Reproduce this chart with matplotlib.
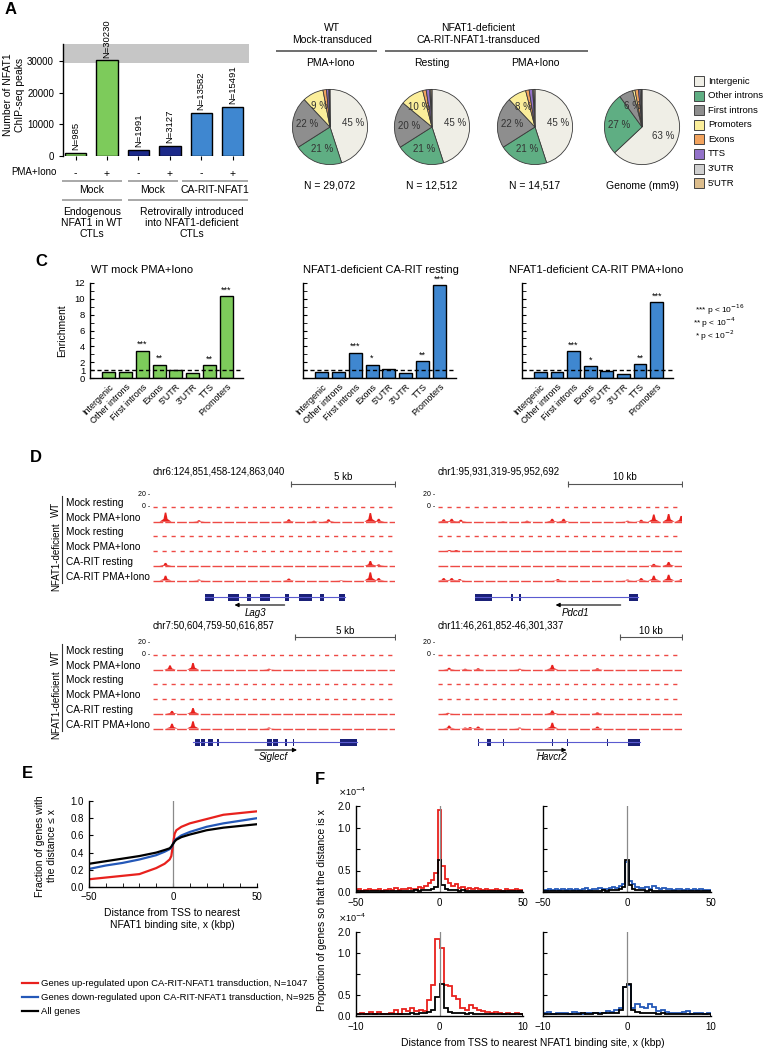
"""
plot.py - NFAT1 ChIP-seq summary figure (panels A, C, D, E, F).
"""

import matplotlib.pyplot as plt
from matplotlib.patches import Rectangle

plt.rcParams["font.family"] = ["Liberation Sans", "DejaVu Sans"]
plt.rcParams["font.size"] = 7
plt.rcParams["axes.linewidth"] = 1.0

W, H = 765, 1050

# ---------------------------------------------------------------------------
# Data
# ---------------------------------------------------------------------------

# A: number of peaks
a_counts = [985, 30230, 1991, 3127, 13582, 15491]
a_stim = ["-", "+", "-", "+", "-", "+"]
a_groups = ["Mock", "Mock", "CA-RIT-NFAT1"]

# A: genomic distribution pies
pie_categories = ["Intergenic", "Other introns", "First introns", "Promoters",
                  "Exons", "TTS", "3'UTR", "5'UTR"]
pie_wt_pma = [45, 21, 22, 9, 1.5, 1.0, 0.3, 0.2]
pie_carit_rest = [45, 21, 20, 10, 1.5, 1.5, 0.5, 0.5]
pie_carit_pma = [45, 21, 22, 8, 1.5, 1.5, 0.5, 0.5]
pie_genome = [63, 27, 6, 1.0, 1.5, 0.7, 0.5, 0.3]
pie_titles = ["PMA+Iono", "Resting", "PMA+Iono", ""]
pie_footers = ["N = 29,072", "N = 12,512", "N = 14,517", "Genome (mm9)"]

# C: enrichment
c_categories = ["Intergenic", "Other introns", "First introns", "Exons",
                "5'UTR", "3'UTR", "TTS", "Promoters"]
c_wt_pma = [0.72, 0.76, 3.45, 1.7, 0.97, 0.6, 1.65, 10.3]
c_carit_rest = [0.7, 0.75, 3.2, 1.7, 1.2, 0.6, 2.1, 11.7]
c_carit_pma = [0.7, 0.75, 3.4, 1.5, 0.9, 0.55, 1.77, 9.6]
c_stars_wt = ["", "", "***", "**", "", "", "**", "***"]
c_stars_rest = ["", "", "***", "*", "", "", "**", "***"]
c_stars_pma = ["", "", "***", "*", "", "", "**", "***"]
c_titles = ["WT mock PMA+Iono", "NFAT1-deficient CA-RIT resting",
            "NFAT1-deficient CA-RIT PMA+Iono"]

# D: browser tracks (positions in kb from locus start, signal height)
d_loci = ["chr6:124,851,458-124,863,040", "chr1:95,931,319-95,952,692",
          "chr7:50,604,759-50,616,857", "chr11:46,261,852-46,301,337"]
d_len_kb = [11.58, 21.37, 12.10, 39.49]
d_scale_kb = [5, 10, 5, 10]
d_tracks = ["Mock resting", "Mock PMA+Iono", "Mock resting", "Mock PMA+Iono",
            "CA-RIT resting", "CA-RIT PMA+Iono"]

lag3_peaks = [
    [],
    [(0.6, 19), (2.2, 3), (6.5, 5), (7.7, 2), (8.4, 5), (10.4, 18), (10.8, 6)],
    [],
    [],
    [(0.6, 6), (10.4, 10), (10.8, 3)],
    [(0.6, 10), (2.2, 2), (6.5, 4), (9.0, 1), (10.4, 17), (10.8, 5)],
]
pdcd1_peaks = [
    [],
    [(0.5, 5), (1.2, 6), (2.0, 4), (5.7, 1), (7.8, 2), (10.0, 6), (11.0, 6),
     (16.6, 2), (17.8, 4), (18.9, 15), (20.2, 16), (21.3, 12)],
    [],
    [(1.0, 2), (1.6, 2)],
    [(18.9, 4), (20.2, 8)],
    [(0.5, 5), (1.2, 5), (1.9, 3), (10.5, 3), (16.6, 2), (17.8, 5),
     (18.9, 10), (20.2, 12), (21.3, 3)],
]
siglecf_peaks = [
    [],
    [(0.85, 9), (2.0, 14), (5.8, 2)],
    [],
    [],
    [(0.95, 6), (2.0, 12)],
    [(0.95, 10), (2.0, 15), (5.8, 2)],
]
havcr2_peaks = [
    [],
    [(1.8, 4), (4.4, 2), (6.5, 3), (13.2, 2), (18.5, 10), (25.8, 3)],
    [],
    [],
    [(1.6, 2), (18.5, 7), (25.8, 3)],
    [(1.8, 6), (4.4, 2), (5.2, 3), (6.5, 4), (13.2, 2), (18.5, 12), (25.8, 4)],
]
d_peaks = [lag3_peaks, pdcd1_peaks, siglecf_peaks, havcr2_peaks]

d_genes = ["Lag3", "Pdcd1", "Siglecf", "Havcr2"]
d_gene_span = [(2.5, 9.2), (3.2, 17.5), (2.0, 10.2), (6.4, 32.7)]
d_gene_exons = [
    [(2.5, 2.9), (3.6, 4.1), (4.5, 4.7), (5.1, 5.6), (6.3, 6.5), (7.0, 7.6),
     (8.0, 8.2), (8.9, 9.2)],
    [(3.2, 4.7), (6.4, 6.6), (7.1, 7.3), (16.7, 17.5)],
    [(2.1, 2.35), (2.4, 2.6), (2.75, 3.0), (3.2, 3.3), (5.7, 5.95),
     (6.0, 6.25), (6.6, 6.7), (7.0, 7.05), (9.35, 10.2)],
    [(6.4, 6.6), (8.0, 8.5), (10.5, 10.65), (18.4, 18.55), (20.9, 21.05),
     (27.3, 27.45), (30.8, 32.7)],
]
d_gene_arrow = [(6.3, 3.9), (16.0, 10.3), (5.1, 7.2), (16.0, 20.8)]
d_gene_label_x = [4.9, 12.0, 6.0, 18.4]

# E: cumulative distributions
e_x = [-50, -40, -30, -20, -10, -5, -2, -1, 0, 1, 2, 5, 10, 20, 30, 40, 50]
e_up = [0.09, 0.11, 0.13, 0.15, 0.22, 0.27, 0.32, 0.36, 0.50, 0.62, 0.66,
        0.70, 0.74, 0.79, 0.84, 0.86, 0.88]
e_down = [0.21, 0.25, 0.28, 0.32, 0.37, 0.41, 0.44, 0.46, 0.50, 0.54, 0.56,
          0.60, 0.64, 0.70, 0.74, 0.77, 0.80]
e_all = [0.27, 0.30, 0.33, 0.36, 0.40, 0.43, 0.45, 0.47, 0.50, 0.53, 0.55,
         0.58, 0.61, 0.66, 0.69, 0.71, 0.73]
e_legend = ["Genes up-regulated upon CA-RIT-NFAT1 transduction, N=1047",
            "Genes down-regulated upon CA-RIT-NFAT1 transduction, N=925",
            "All genes"]

# F: histograms (x10^-4), top: 2 kbp bins over -51..51, bottom: 0.5 kbp bins
f_top_edges = [-51 + 2 * i for i in range(52)]
f_top_up = [0.04, 0.06, 0.03, 0.05, 0.08, 0.04, 0.05, 0.07, 0.03, 0.05,
            0.06, 0.04, 0.09, 0.05, 0.07, 0.06, 0.10, 0.06, 0.08, 0.12,
            0.09, 0.15, 0.20, 0.27, 0.45, 1.90, 0.60, 0.30, 0.22, 0.15,
            0.18, 0.10, 0.12, 0.08, 0.10, 0.07, 0.09, 0.06, 0.05, 0.08,
            0.05, 0.04, 0.06, 0.05, 0.03, 0.06, 0.04, 0.05, 0.08, 0.04, 0.05]
f_top_all = [0.02, 0.03, 0.02, 0.02, 0.03, 0.02, 0.03, 0.02, 0.02, 0.03,
             0.03, 0.02, 0.03, 0.03, 0.02, 0.03, 0.03, 0.03, 0.04, 0.03,
             0.04, 0.04, 0.05, 0.06, 0.12, 0.75, 0.16, 0.07, 0.05, 0.04,
             0.04, 0.03, 0.04, 0.03, 0.03, 0.03, 0.02, 0.03, 0.03, 0.02,
             0.03, 0.02, 0.03, 0.02, 0.02, 0.03, 0.02, 0.02, 0.03, 0.02, 0.02]
f_top_down = [0.05, 0.04, 0.07, 0.05, 0.06, 0.04, 0.08, 0.05, 0.06, 0.04,
              0.07, 0.05, 0.06, 0.09, 0.05, 0.07, 0.06, 0.10, 0.08, 0.07,
              0.09, 0.12, 0.10, 0.14, 0.18, 0.70, 0.25, 0.18, 0.12, 0.10,
              0.09, 0.12, 0.08, 0.13, 0.10, 0.07, 0.09, 0.06, 0.08, 0.05,
              0.07, 0.06, 0.05, 0.08, 0.05, 0.06, 0.04, 0.06, 0.05, 0.04, 0.05]
f_bot_edges = [-10 + 0.5 * i for i in range(41)]
f_bot_up = [0.05, 0.06, 0.05, 0.10, 0.05, 0.10, 0.05, 0.05, 0.08, 0.15,
            0.05, 0.17, 0.12, 0.20, 0.12, 0.15, 0.12, 0.37, 0.75, 1.84,
            1.62, 0.73, 0.72, 0.47, 0.40, 0.18, 0.15, 0.27, 0.20, 0.15,
            0.12, 0.10, 0.08, 0.10, 0.07, 0.05, 0.08, 0.05, 0.07, 0.05]
f_bot_all_up = [0.04, 0.05, 0.04, 0.04, 0.05, 0.04, 0.05, 0.04, 0.05, 0.05,
                0.04, 0.05, 0.05, 0.06, 0.05, 0.06, 0.06, 0.10, 0.15, 0.45,
                0.77, 0.20, 0.10, 0.08, 0.06, 0.06, 0.05, 0.06, 0.05, 0.05,
                0.04, 0.05, 0.04, 0.05, 0.04, 0.04, 0.05, 0.04, 0.04, 0.04]
f_bot_down = [0.06, 0.10, 0.05, 0.06, 0.08, 0.06, 0.05, 0.10, 0.06, 0.05,
              0.08, 0.06, 0.06, 0.08, 0.06, 0.12, 0.10, 0.15, 0.20, 0.70,
              0.75, 0.20, 0.28, 0.22, 0.18, 0.28, 0.22, 0.12, 0.15, 0.10,
              0.06, 0.06, 0.08, 0.10, 0.12, 0.05, 0.06, 0.06, 0.05, 0.06]
f_bot_all_down = [0.05, 0.05, 0.04, 0.05, 0.05, 0.04, 0.05, 0.05, 0.05, 0.06,
                  0.05, 0.05, 0.06, 0.05, 0.06, 0.06, 0.07, 0.08, 0.15, 0.70,
                  0.77, 0.15, 0.10, 0.08, 0.07, 0.06, 0.06, 0.05, 0.06, 0.05,
                  0.05, 0.05, 0.05, 0.04, 0.05, 0.05, 0.04, 0.05, 0.04, 0.04]

# ---------------------------------------------------------------------------
# Styles
# ---------------------------------------------------------------------------
GREEN = "#7dcb5b"
NAVY = "#1c2a8a"
BLUE = "#3f87d0"
RED = "#e8211d"
DBLUE = "#2458b8"
GRAY_LINE = "#9a9a9a"
GENE = "#1a2078"
a_colors = [GREEN, GREEN, NAVY, NAVY, BLUE, BLUE]
pie_colors = ["#efeee6", "#5fae83", "#8e8e8e", "#fbee9a", "#f2a35e",
              "#9372c9", "#cfcfcf", "#dcbd8c"]

fig = plt.figure(figsize=(W / 100, H / 100), dpi=100)


def px_axes(x0, y0, x1, y1):
    """Axes placed by pixel box (top-left origin)."""
    return fig.add_axes([x0 / W, 1 - y1 / H, (x1 - x0) / W, (y1 - y0) / H])


ov = fig.add_axes([0, 0, 1, 1])
ov.set_xlim(0, W)
ov.set_ylim(H, 0)
ov.axis("off")


def txt(x, y, s, **kw):
    kw.setdefault("ha", "center")
    kw.setdefault("va", "center")
    ov.text(x, y, s, **kw)


def hline(x0, x1, y, color=GRAY_LINE, lw=1.2):
    ov.plot([x0, x1], [y, y], color=color, lw=lw, solid_capstyle="butt")


# ---------------------------------------------------------------------------
# A: bar chart
# ---------------------------------------------------------------------------
ax = px_axes(63, 44, 249, 156)
xpos = list(range(len(a_counts)))
ax.axhspan(29400, 35400, color="#c6c6c6", zorder=0, lw=0)
ax.bar(xpos, a_counts, width=0.68, color=a_colors, edgecolor="black", lw=1, zorder=2)
for i, n in enumerate(a_counts):
    ax.text(i, n + 900, f"N={n}", rotation=90, ha="center", va="bottom",
            fontsize=6.8, clip_on=False)
ax.set_xlim(-0.4, 5.52)
ax.set_ylim(0, 35400)
ax.set_yticks([0, 10000, 20000, 30000])
ax.set_xticks(xpos, a_stim, fontsize=7.5)
ax.tick_params(axis="x", length=3, pad=6)
ax.tick_params(axis="y", length=3, labelsize=7)
for s in ("top", "right", "bottom"):
    ax.spines[s].set_visible(False)

txt(5, 10, "A", fontsize=12, fontweight="bold", ha="left")
txt(14, 95, "Number of NFAT1\nChIP-seq peaks", rotation=90, fontsize=7.5)
txt(34, 172, "PMA+Iono", fontsize=7)
for (x0, x1), g in zip([(62, 122), (128, 178), (182, 248)], a_groups):
    hline(x0, x1, 181)
    txt((x0 + x1) / 2, 190, g, fontsize=7.5)
hline(62, 122, 200)
hline(128, 248, 200)
txt(92, 223, "Endogenous\nNFAT1 in WT\nCTLs", fontsize=7.5, linespacing=1.15)
txt(192, 223, "Retrovirally introduced\ninto NFAT1-deficient\nCTLs", fontsize=7.5,
    linespacing=1.15)

# pies
pie_data = [pie_wt_pma, pie_carit_rest, pie_carit_pma, pie_genome]
pie_cx = [330, 432, 535, 642]
for vals, cx, title, foot in zip(pie_data, pie_cx, pie_titles, pie_footers):
    pax = px_axes(cx - 47, 80, cx + 47, 174)
    pax.pie(vals, colors=pie_colors, startangle=90, counterclock=False,
            wedgeprops=dict(edgecolor="#3a3a3a", linewidth=0.6),
            autopct=lambda p: f"{p:.0f} %" if p >= 5 else "",
            pctdistance=0.62, textprops=dict(fontsize=7, color="#333333"))
    pax.set_aspect("equal")
    if title:
        txt(cx, 63, title, fontsize=7.5)
    txt(cx, 186, foot, fontsize=7.5)

txt(332, 34, "WT\nMock-transduced", fontsize=7.5, linespacing=1.2)
hline(276, 377, 51, color="#555555")
txt(478, 34, "NFAT1-deficient\nCA-RIT-NFAT1-transduced", fontsize=7.5, linespacing=1.2)
hline(385, 588, 51, color="#555555")

for i, name in enumerate(pie_categories):
    y = 81 + 14.6 * i
    ov.add_patch(Rectangle((694, y - 5), 10, 10, facecolor=pie_colors[i],
                           edgecolor="#444444", lw=0.7))
    txt(708, y, name, ha="left", fontsize=6.8)

# ---------------------------------------------------------------------------
# C: enrichment
# ---------------------------------------------------------------------------
txt(35, 261, "C", fontsize=12, fontweight="bold", ha="left")
c_vals = [c_wt_pma, c_carit_rest, c_carit_pma]
c_stars = [c_stars_wt, c_stars_rest, c_stars_pma]
c_colors = [GREEN, BLUE, BLUE]
c_boxes = [(90, 243), (303, 456), (522, 673)]
c_title_x = [142, 381, 596]
for k in range(3):
    x0, x1 = c_boxes[k]
    ax = px_axes(x0, 283, x1, 378)
    ax.bar(range(8), c_vals[k], width=0.77, color=c_colors[k],
           edgecolor="black", lw=1, zorder=2)
    ax.axhline(1, ls=(0, (3, 2)), color="black", lw=1, zorder=3)
    for i, (v, s) in enumerate(zip(c_vals[k], c_stars[k])):
        if s:
            ax.text(i, v + 0.2, s, ha="center", va="bottom", fontsize=6.5,
                    clip_on=False)
    ax.set_xlim(-1.1, 7.98)
    ax.set_ylim(0, 12)
    ax.set_yticks([0, 1, 2, 4, 6, 8, 10, 12])
    ax.set_yticks(range(13), minor=True)
    ax.tick_params(axis="y", which="both", direction="in", length=3, labelsize=6.8)
    if k > 0:
        ax.set_yticklabels([])
    ax.set_xticks(range(8))
    ax.set_xticklabels(c_categories, rotation=45, ha="right",
                       rotation_mode="anchor", fontsize=6.5)
    ax.tick_params(axis="x", length=0, pad=3)
    ax.spines["top"].set_visible(False)
    ax.spines["right"].set_visible(False)
    txt(c_title_x[k], 270, c_titles[k], fontsize=8)
txt(62, 331, "Enrichment", rotation=90, fontsize=7.5)
txt(745, 310, r"*** p < 10$^{-16}$", ha="right", fontsize=6)
txt(736, 323, r"** p < 10$^{-4}$", ha="right", fontsize=6)
txt(734, 336, r"* p < 10$^{-2}$", ha="right", fontsize=6)

# ---------------------------------------------------------------------------
# D: genome browser tracks
# ---------------------------------------------------------------------------
txt(30, 458, "D", fontsize=12, fontweight="bold", ha="left")
TRACK_STEP = 14.7
SIG_PX = 0.48  # px per signal unit
blocks = [  # coord_y, scale_y, first baseline, gene_y, arrow_y, label_y
    dict(coord=472, scale=484, base=507, gene=597, arrow=605, label=613),
    dict(coord=626, scale=637, base=655, gene=742, arrow=750, label=757),
]
cols = [(153, 395), (438, 682)]
for li in range(4):
    blk = blocks[li // 2]
    x0, x1 = cols[li % 2]
    L = d_len_kb[li]
    ax = px_axes(x0, blk["coord"] - 9, x1, blk["label"] + 8)
    ax.set_xlim(0, L)
    ax.set_ylim(blk["label"] + 8, blk["coord"] - 9)
    ax.axis("off")
    hw = L * 6.0 / (x1 - x0)  # half-width of a peak (~6 px)
    for t, peaks in enumerate(d_peaks[li]):
        base = blk["base"] + t * TRACK_STEP
        dash = (0, (7, 1.5)) if peaks else (0, (3, 3.5))
        ax.plot([0, L], [base, base], color="#ee4a45", lw=1.0, ls=dash)
        for pos, h in peaks:
            hp = h * SIG_PX
            ax.fill([pos - hw, pos - hw / 3, pos - hw / 8, pos + hw / 8,
                     pos + hw / 3, pos + hw],
                    [base, base - hp * 0.3, base - hp, base - hp,
                     base - hp * 0.3, base],
                    color=RED, lw=0)
    b0 = blk["base"]
    ax.annotate("0 -", xy=(0, b0), xytext=(-2, 0), textcoords="offset points",
                ha="right", va="center", fontsize=5)
    ax.annotate("20 -", xy=(0, b0 - 20 * SIG_PX - 3), xytext=(-2, 0),
                textcoords="offset points", ha="right", va="center", fontsize=5)
    ax.text(0, blk["coord"], d_loci[li], ha="left", va="center", fontsize=7)
    s = d_scale_kb[li]
    ax.plot([L - s, L], [blk["scale"], blk["scale"]], color="#555555", lw=0.8,
            marker="|", ms=5, mew=0.8)
    ax.text(L - s / 2, blk["scale"] - 1.5, f"{s} kb", ha="center", va="bottom",
            fontsize=7)
    # gene model
    g0, g1 = d_gene_span[li]
    gy = blk["gene"]
    ax.plot([g0, g1], [gy, gy], color="#5a5ad0", lw=0.8)
    ax.broken_barh([(a, b - a) for a, b in d_gene_exons[li]], (gy - 3.5, 7),
                   facecolors=GENE)
    a0, a1 = d_gene_arrow[li]
    ax.annotate("", xy=(a1, blk["arrow"]), xytext=(a0, blk["arrow"]),
                arrowprops=dict(arrowstyle="-|>", lw=0.8, color="black",
                                mutation_scale=6, shrinkA=0, shrinkB=0))
    ax.text(d_gene_label_x[li], blk["label"], d_genes[li], ha="center",
            va="center", fontsize=7, style="italic")

for blk in blocks:
    b0 = blk["base"]
    for t, name in enumerate(d_tracks):
        txt(66, b0 + t * TRACK_STEP - 4, name, ha="left", fontsize=7.3)
    ov.plot([62, 62], [b0 - 11, b0 + TRACK_STEP + 2], color="#333333", lw=0.8)
    ov.plot([62, 62], [b0 + 2 * TRACK_STEP - 11, b0 + 5 * TRACK_STEP + 2],
            color="#333333", lw=0.8)
    txt(56, b0 + 0.5 * TRACK_STEP - 5, "WT", rotation=90, fontsize=7)
    txt(56, b0 + 3.5 * TRACK_STEP - 2, "NFAT1-deficient", rotation=90, fontsize=7)

# ---------------------------------------------------------------------------
# E: cumulative distance distributions
# ---------------------------------------------------------------------------
txt(22, 774, "E", fontsize=12, fontweight="bold", ha="left")
ax = px_axes(89, 801, 257, 887)
ax.axvline(0, color="#8a8a8a", lw=0.9)
ax.plot(e_x, e_up, color=RED, lw=1.6)
ax.plot(e_x, e_down, color=DBLUE, lw=1.6)
ax.plot(e_x, e_all, color="black", lw=1.6)
ax.set_xlim(-50, 50)
ax.set_ylim(0, 1)
ax.set_xticks([-50, 0, 50])
ax.set_xticks(range(-50, 51, 10), minor=True)
ax.set_yticks([0, 0.2, 0.4, 0.6, 0.8, 1.0], ["0.0", "0.2", "0.4", "0.6", "0.8", "1.0"])
ax.tick_params(which="both", direction="in", length=3, labelsize=7)
ax.spines["top"].set_visible(False)
ax.spines["right"].set_visible(False)
txt(46, 846, "Fraction of genes with\nthe distance \u2264 x", rotation=90,
    fontsize=7.5, linespacing=1.2)
txt(172, 919, "Distance from TSS to nearest\nNFAT1 binding site, x (kbp)",
    fontsize=7.5, linespacing=1.3)
for i, (lab, col) in enumerate(zip(e_legend, [RED, DBLUE, "black"])):
    y = 983 + 14 * i
    ov.plot([22, 38], [y, y], color=col, lw=1.6)
    txt(41, y, lab, ha="left", fontsize=6.8)

# ---------------------------------------------------------------------------
# F: histograms
# ---------------------------------------------------------------------------
txt(315, 780, "F", fontsize=12, fontweight="bold", ha="left")
f_panels = [
    ((356, 806, 523, 892), f_top_edges, f_top_up, f_top_all, RED, 50, True),
    ((543, 806, 711, 892), f_top_edges, f_top_down, f_top_all, DBLUE, 50, False),
    ((356, 932, 523, 1016), f_bot_edges, f_bot_up, f_bot_all_up, RED, 10, True),
    ((543, 932, 711, 1016), f_bot_edges, f_bot_down, f_bot_all_down, DBLUE, 10, False),
]
for box, edges, vals, allv, col, lim, show_y in f_panels:
    ax = px_axes(*box)
    ax.axvline(0, color="#8a8a8a", lw=0.9)
    ax.stairs(vals, edges, color=col, lw=1.3)
    ax.stairs(allv, edges, color="black", lw=1.3)
    ax.set_xlim(-lim, lim)
    ax.set_ylim(0, 2.0)
    ax.set_xticks([-lim, 0, lim])
    ax.set_yticks([0, 0.5, 1.0, 1.5, 2.0])
    if show_y:
        ax.set_yticklabels(["0.0", "0.5", "", "1.0", "2.0"])
        ax.text(-0.11, 1.17, r"$\times$10$^{-4}$", transform=ax.transAxes,
                ha="left", va="center", fontsize=6.5)
    else:
        ax.set_yticklabels([])
    ax.tick_params(axis="y", direction="in", length=3, labelsize=7)
    ax.tick_params(axis="x", length=0, pad=4, labelsize=7)
    ax.spines["top"].set_visible(False)
    ax.spines["right"].set_visible(False)
txt(322, 910, "Proportion of genes so that the distance is x", rotation=90,
    fontsize=7.5)
txt(533, 1043, "Distance from TSS to nearest NFAT1 binding site, x (kbp)",
    fontsize=7.5)

fig.savefig("out.png", dpi=100)
